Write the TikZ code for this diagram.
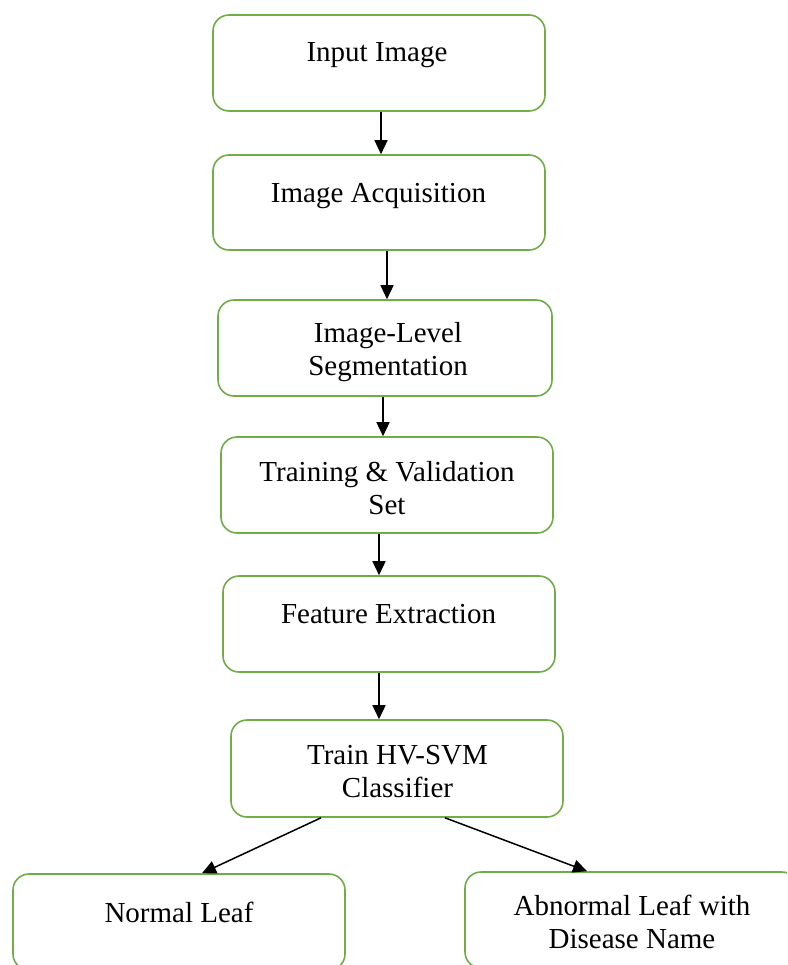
\documentclass[tikz,border=0pt]{standalone}
\usepackage{fontspec}
\setmainfont{Liberation Serif}
\usetikzlibrary{arrows.meta}
\definecolor{boxgreen}{RGB}{112,173,71}
\tikzset{
  stepbox/.style={draw=boxgreen, line width=1.6pt, rounded corners=16pt, rectangle, minimum width=332pt, minimum height=96pt, inner sep=0pt},
  lbl/.style={anchor=base, align=center, inner sep=0pt, font=\fontsize{29}{33}\selectfont, text=black},
  arr/.style={draw=black, line width=1.5pt, -{Triangle[length=14pt,width=13pt]}}
}
\begin{document}
\begin{tikzpicture}[x=1pt,y=-1pt]
\useasboundingbox (0,0) rectangle (787,965);
\clip (0,0) rectangle (787,965);
% boxes
\node[stepbox] (b1) at (379,63) {};
\node[stepbox, minimum height=95pt] (b2) at (379,202.5) {};
\node[stepbox, minimum width=334pt] (b3) at (385,348) {};
\node[stepbox] (b4) at (387,485) {};
\node[stepbox] (b5) at (389,624) {};
\node[stepbox, minimum height=97pt] (b6) at (397,768.5) {};
\node[stepbox] (b7) at (179,922) {};
\node[stepbox, minimum width=333pt] (b8) at (631.5,920) {};
% texts (multi-line labels: base = last baseline)
\node[lbl] (t1) at (377,62) {Input Image};
\node[lbl] (t2) at (378.5,203) {Image Acquisition};
\node[lbl] (t3) at (388,375) {Image-Level\\Segmentation};
\node[lbl] (t4) at (387,514) {Training \& Validation\\Set};
\node[lbl] (t5) at (388.5,623) {Feature Extraction};
\node[lbl] (t6) at (397.5,797) {Train HV-SVM\\Classifier};
\node[lbl] (t7) at (179,922) {Normal Leaf};
\node[lbl] (t8) at (632,948) {Abnormal Leaf with\\Disease Name};
% arrows
\draw[arr] ([xshift=2pt]b1.south) -- ([xshift=2pt]b1.south |- b2.north);
\draw[arr] ([xshift=8pt]b2.south) -- ([xshift=8pt]b2.south |- b3.north);
\draw[arr] ([xshift=-2pt]b3.south) -- ([xshift=-2pt]b3.south |- b4.north);
\draw[arr] ([xshift=-8pt]b4.south) -- ([xshift=-8pt]b4.south |- b5.north);
\draw[arr] ([xshift=-10pt]b5.south) -- ([xshift=-10pt]b5.south |- b6.north);
\draw[arr] ([xshift=-76pt]b6.south) -- ([xshift=23pt]b7.north);
\draw[arr] ([xshift=48pt]b6.south) -- ([xshift=-44.5pt]b8.north);
\end{tikzpicture}
\end{document}
